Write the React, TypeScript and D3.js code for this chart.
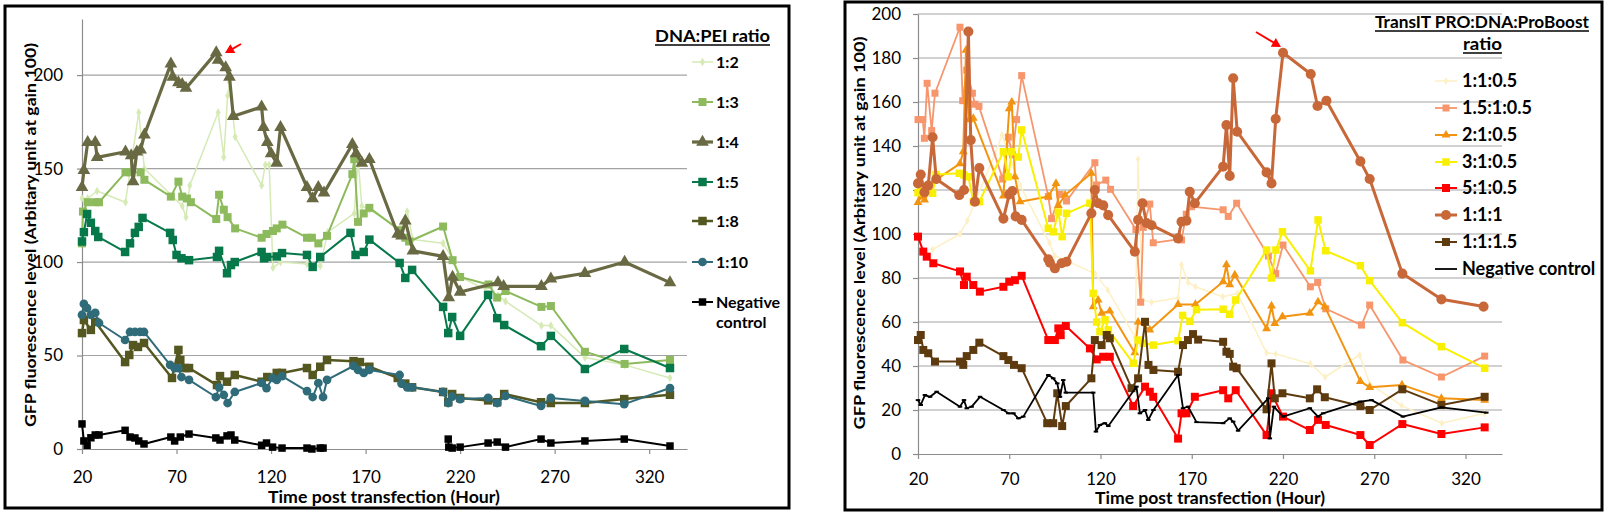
import * as React from 'react';
import * as d3 from 'd3';

const FONT = "Lato, 'Open Sans', sans-serif";

// ---- left panel: DNA:PEI ratio ----
const peiTicksX = [20, 70, 120, 170, 220, 270, 320];
const peiTicksY = [0, 50, 100, 150, 200];

const pei12 = [[20,134],[23,134],[28,138],[43,132],[50,180],[53,150],[73,130],[75,124],[77,141],[92,180],[95,156],[97,189],[98,196],[101,167],[115,141],[117,152],[119,152],[121,97],[125,100],[139,99],[146,98],[150,116],[164,126],[166,155],[168,130],[172,128],[188,118],[192,127],[195,112],[211,110],[217,100],[220,92],[240,82],[244,79],[263,66],[268,66],[286,49],[307,45],[331,38]];
const pei13 = [[20,110],[20.5,127],[23,132],[27,132],[29,132],[43,148],[46,148],[51,148],[53,144],[67,135],[71,143],[73,135],[75.5,134],[77.6,132],[91,123],[92.5,136],[95,128],[97,124],[101,118],[115,113],[117.6,115],[121,116.6],[123,118],[126,120],[139,113],[141.6,113],[145,110],[149.6,114],[163,147],[164,155],[166,121.5],[169,126],[172,129],[188,117],[191,113],[193,111],[211,119],[216,101],[220,92],[235,88],[239.6,81],[244,84.5],[263,76],[268,76.5],[286,52],[307,45.5],[331,47.6]];
const pei14 = [[20,140],[21,149],[23,164],[27,164],[28,156],[43,159],[46,157],[47,143],[49,159],[51,160],[53,168],[67,206],[68,199],[71,196],[73,195],[75,193],[91,212],[92,208],[96,204],[98,199],[100,178],[115,183],[116,172],[118,164],[120,158],[123,153],[125,172],[139,140],[142,134],[145,140],[148,137],[163,163],[165,158],[168,153],[172,155],[187,115],[189,114],[191,122],[195,106],[211,103],[214,81],[216,92],[220,84],[240,89],[243,87],[263,87],[268,91],[286,94],[307,100],[331,89]];
const pei15 = [[20,111],[21,116],[22.7,125.7],[24.7,121],[27,116.6],[28.6,113.4],[42.8,105.4],[45.4,110],[48,115.6],[50,118.8],[52,123.6],[66.6,115.6],[68,111.8],[70,103.8],[72.6,102],[76.6,101],[91.4,102.7],[92.5,106],[96.7,94],[98.8,98.4],[100.8,100],[115,105.4],[116.3,102],[118,102.7],[123,103],[125.8,104.8],[139,103.8],[142,97.4],[146,102.7],[162,115.6],[164.7,103.8],[169,105.4],[172,112],[188,99.5],[191,91.5],[194.6,95.8],[211,76],[213.7,62],[215.8,70.6],[220,60.5],[234.8,82.4],[239.6,70],[243.3,66.3],[262.8,55],[268,60.5],[286,42.8],[306.8,53.5],[331,43.3]];
const pei18 = [[20,62],[21,69],[24.7,63.7],[27,68],[42.8,46.5],[45,50.3],[47,55.6],[49.6,54.6],[52.8,56.7],[67.6,38],[71,53],[72,47.6],[74.6,43.3],[76.6,43.3],[91.4,34.2],[93,39],[96.7,36],[100.8,39.6],[115,36],[118,38.5],[123,40.7],[125.8,40.7],[139,43.3],[142,39.6],[146,44],[149.6,47.6],[163.6,47],[167,46.5],[172,44],[187,38],[191,35],[194.6,33],[211,30.5],[213.7,25],[215.8,29.4],[220,27.3],[234.8,26],[239.6,25],[243.3,29.4],[262.8,25],[268,24.6],[286,24.6],[306.8,26.7],[331,29]];
const pei110 = [[20,71.7],[21,77.6],[22.7,75.4],[24.7,71.7],[27,72.8],[29,67.4],[42.8,58.3],[45.4,62.6],[48,62.6],[50.7,62.6],[52.8,62.6],[66.6,45],[69,43.3],[71,43.3],[72.6,38.5],[76.6,37],[90.8,27.8],[92.5,33],[95,28.9],[97,24.6],[100.8,30.5],[115,35.3],[117.6,32.6],[120.8,38],[123,37],[125.8,39],[139,31],[142,27.8],[145,35.3],[147.5,27.8],[149.6,37],[163.6,44.4],[166,42.3],[169,40.7],[172,42.3],[188,39.6],[189,35],[192,33],[194.6,33],[211,30.5],[213.7,24.6],[215.8,28],[220,26.7],[234.8,27.3],[239.6,24.6],[244,28.4],[262.8,23],[268,27.3],[286,25.7],[306.8,24],[331,32.6]];
const peiNeg = [[20,13.4],[21,4.3],[22.7,2],[24.7,6],[27,7.5],[29,7.5],[42.8,10],[45.4,6.4],[48,5.9],[50,4.3],[52.8,2.7],[67,6.4],[69,4.3],[72,6.4],[76.6,8],[90.8,5.9],[93,4.8],[96.7,7],[98.8,7.5],[100.8,4.8],[115,2],[117.6,3.2],[120.8,1],[125.8,0.5],[139,0.5],[141.6,0],[146,0.5],[147.5,0.5],[180,null],[213.7,5.3],[214,1],[215.8,0.5],[220,1],[234.8,3.2],[239.6,3.7],[244,1],[262.8,5.3],[268,3.2],[286,4.3],[306.8,5.3],[331,1.6]];

// ---- right panel: TransIT PRO:DNA:ProBoost ratio ----
const proTicksX = [20, 70, 120, 170, 220, 270, 320];
const proTicksY = [0, 20, 40, 60, 80, 100, 120, 140, 160, 180, 200];

const pro1105 = [[28,93],[43,100],[47,106],[62,136],[66,145],[76,122],[92,96],[95,90],[101,88],[117,82],[124,74.5],[139,53],[140.6,134],[143,70],[148,69],[162.5,71],[164.4,86],[168,78],[172,76],[187,71.5],[195,73],[211,46],[216,45.5],[235,41],[243,35],[262,45],[267.5,32],[285,22],[307,14],[330.5,18.5]];
const pro15105 = [[20,152],[22.6,152],[23.5,143.5],[25,168.5],[27.5,147],[29.3,164],[43,194],[44.5,160.6],[46.7,174.5],[49.8,164],[51.2,159],[53.4,158],[66.4,125],[69.5,144],[71.8,136],[74,152],[76.8,172],[91.4,117],[93.2,107],[97.8,118],[101.4,115],[116.9,132.4],[117.8,122.3],[122.9,124.5],[125.5,120.3],[139.4,102],[142,69],[143.4,103],[147,113.6],[148.9,96],[162.5,97.6],[164.4,97.3],[167,109],[169.8,112.4],[187.2,111],[190,108],[194.6,114],[212,90],[216,82],[220,95],[235,76],[239,78],[243.4,66],[263,58.6],[267.5,67.7],[285.7,42.7],[306.8,35],[330.5,44.5]];
const pro2105 = [[20,114.4],[21.8,117],[23.6,115.5],[26.7,120],[28.7,124],[43,132],[44.8,137.4],[46.3,183.6],[48.1,152],[50.3,152.6],[66.8,117.3],[70,157],[71.4,160],[73.1,126],[75.9,114.7],[91.4,117],[95.6,123],[96.9,113],[100.6,117.7],[115,127.6],[116,67],[118.7,70],[120.6,64],[125.1,65],[138.8,46],[140.6,60],[147,56.4],[162.5,68],[172,68],[187.2,78.3],[189,86],[190.8,77],[193.6,81.4],[211,57],[213.7,67.3],[215.5,59.4],[219.7,62.4],[234.7,64],[239.2,69.2],[242.9,67],[262.4,33],[267.5,30.3],[285.2,31.4],[306.8,25.3],[330.5,24.5]];
const pro3105 = [[20,118.8],[21.8,120.8],[25.6,121.5],[28,118.5],[29.9,127],[42.6,127.6],[45.2,126.8],[47.6,126],[50.3,114.7],[53.6,114.7],[66.8,137.4],[69.5,126],[71.3,137.4],[74.9,135],[76.8,147.3],[91.4,102.6],[94.1,101],[96.9,110],[99,98.8],[101.4,109.4],[114.2,114],[116,73],[117.9,60],[119.7,55.6],[122.5,61],[124.3,56.4],[138,41.2],[140.6,51.8],[143.4,50.3],[148.9,49.5],[162.5,51.5],[165,63],[169,60.3],[172.6,65.6],[187.2,65.8],[190.8,63.5],[194.1,70],[211,92.7],[213.7,80],[216.1,92.7],[219.7,101],[235,83.3],[239.2,106.4],[243.4,92.4],[262.4,85.6],[267.5,78.8],[285.4,59.7],[306.8,48.8],[330.5,39]];
const pro5105 = [[20,98.8],[22.9,92],[24.8,89.7],[28.4,86.7],[43,83],[45.2,76.8],[46.7,80.6],[50.3,76.8],[53.9,73.8],[66.8,76],[70,78.3],[73.1,79],[76.8,81],[91.4,51.8],[95,51.8],[96.9,57.1],[98.2,54],[101,58.2],[114.2,48],[117.9,43],[121.5,44.2],[125.1,44.2],[137.9,21.8],[144.4,30.6],[147,28.3],[148.9,26],[162.5,7],[164.4,18.5],[167.1,18.5],[171.7,26],[187.2,29],[190,25.3],[194.1,29],[211,8.6],[213.7,27.6],[220,17],[234.7,10.9],[239.2,15.5],[243.4,13.2],[262.4,8.6],[267.5,4.1],[285.4,13.6],[306.8,9.1],[330.5,12.1]];
const pro111 = [[20,123],[21.5,127],[23.5,119],[25.6,122],[28,144],[30,125],[42.6,117.7],[45.2,120],[47.6,192],[48.9,142.7],[51.2,114.7],[53.6,130],[66.8,107],[70,118],[71.7,119.5],[73.5,108],[76.8,106.4],[91.4,88.5],[92.3,87],[95,84.4],[98.7,86.7],[101.4,87.4],[115,109.4],[116.9,120],[118.7,114],[121.5,113],[124.2,108.6],[138.8,92],[140.6,106.4],[143,114],[145.2,105],[148,104],[162.5,98],[164.4,105.6],[167.1,106],[168.9,119.2],[171.7,114],[187.2,130.6],[189,149.5],[190.8,126.4],[192.7,170.8],[194.9,146.5],[211,128],[213.7,123],[216,152.3],[220,182.4],[235.2,172.7],[238.9,158.2],[243.8,160.6],[262.4,133],[267.5,125],[285.4,82],[306.8,70.3],[329.9,67]];
const pro1115 = [[20,51.8],[21.5,54.1],[22.9,47.3],[25.6,45.8],[29.3,42],[43,42],[44.8,40.5],[46.7,44.5],[50.3,47.3],[53.6,50.6],[66.8,44.5],[69.5,42.7],[72.6,40.5],[76.8,39],[90.8,14],[94.1,14],[96.3,27.6],[99,12.7],[101,21.8],[115,34.4],[116.9,51.8],[120.6,49.5],[123.4,54.1],[125.1,52.6],[137,29.9],[140.6,34.4],[144.4,60.1],[146.3,40.5],[149,38.2],[162.5,37.4],[165.2,49.5],[167.9,51.8],[170.7,54.5],[173.5,52],[187.2,51],[189,46.5],[190.8,45.5],[192.7,39.7],[194.6,39],[211,20.3],[213.7,41.2],[215.5,25.3],[219.7,27.6],[234.7,25.3],[238.7,29.4],[242.9,25.8],[262.4,21.8],[267.5,20],[285.4,29.4],[306.8,22.3],[330.5,26]];
const proNeg = [[20,24.5],[21.5,22.3],[23.8,26.8],[26.6,26],[30.2,28.3],[43,21.5],[45.2,24.5],[46.7,20.8],[49.4,21.5],[54,26],[66.8,20],[69.5,18.5],[72.3,18.5],[75,16.2],[77.7,17],[91.4,35.9],[94.1,34.4],[96.3,32.1],[97.8,26],[99.6,33.6],[101,27.9],[116,27.9],[117.5,10.2],[119.7,13.2],[122.4,14],[124.3,12.7],[139.7,30.6],[141.6,18.5],[144.4,20],[146.2,15.5],[149,20],[162.5,35.9],[165.2,20.8],[168,21.5],[172.6,14.5],[187.2,14],[190.8,16.2],[192.7,14.7],[195.4,10.6],[211.9,25.3],[212.8,7.1],[215,21.5],[220,17],[234.7,20.8],[239.2,17],[242,18.5],[262.2,23.8],[268.5,24.5],[285.7,17],[306.8,21.2],[331.4,18.8]];

const dash = {
    draw(ctx, size) {
        const w = Math.sqrt(size);
        ctx.rect(-w / 2, -1, w, 2);
    }
};

const leftPanel = {
    frame: [5, 6, 784, 502],
    xDomain: [20, 340], yDomain: [0, 230],
    left: 82, right: 687, bottom: 449, top: 19,
    xTicks: peiTicksX, yTicks: peiTicksY,
    yPad: 14, xPad: 17,
    yLabel: { text: "GFP fluorescence  level (Arbitary unit at gain 100)", x: 30, y: 235, len: 384 },
    xLabel: { text: "Time post transfection (Hour)", x: 268, y: 503, len: 232 },
    series: [
        { name: '1:2', data: pei12, color: '#d6eab6', width: 1.5, symbol: d3.symbolDiamond, size: 22 },
        { name: '1:3', data: pei13, color: '#8cba5c', width: 2, symbol: d3.symbolSquare, size: 64 },
        { name: '1:4', data: pei14, color: '#696a43', width: 3.2, symbol: d3.symbolTriangle, size: 70 },
        { name: '1:5', data: pei15, color: '#06784a', width: 2, symbol: d3.symbolSquare, size: 72 },
        { name: '1:8', data: pei18, color: '#545720', width: 2.5, symbol: d3.symbolSquare, size: 72 },
        { name: '1:10', data: pei110, color: '#2f6b78', width: 2, symbol: d3.symbolCircle, size: 60 },
        { name: 'Negative', name2: 'control', data: peiNeg, color: '#000000', width: 2, symbol: d3.symbolSquare, size: 56 }
    ],
    legend: { x1: 692, x2: 713, tx: 716, ys: [62, 102, 142, 182, 221, 262, 302], font: 16 },
    titles: [{ text: 'DNA:PEI ratio', x: 655, y: 42, len: 115 }],
    arrow: [241, 44, 225, 53]
};

const rightPanel = {
    frame: [845, 2, 757, 508],
    xDomain: [20, 340], yDomain: [0, 200],
    left: 918, right: 1502, bottom: 454, top: 14,
    xTicks: proTicksX, yTicks: proTicksY,
    yPad: 12, xPad: 14,
    yLabel: { text: "GFP fluorescence  level (Arbitary unit at gain 100)", x: 859, y: 233, len: 393 },
    xLabel: { text: "Time post transfection (Hour)", x: 1095, y: 504, len: 230 },
    series: [
        { name: '1:1:0.5', data: pro1105, color: '#fdf0c4', width: 1.5, symbol: d3.symbolDiamond, size: 18 },
        { name: '1.5:1:0.5', data: pro15105, color: '#f7956c', width: 1.8, symbol: d3.symbolSquare, size: 49 },
        { name: '2:1:0.5', data: pro2105, color: '#f39410', width: 2, symbol: d3.symbolTriangle, size: 34 },
        { name: '3:1:0.5', data: pro3105, color: '#f8f000', width: 2, symbol: d3.symbolSquare, size: 56 },
        { name: '5:1:0.5', data: pro5105, color: '#ff0000', width: 2, symbol: d3.symbolSquare, size: 64 },
        { name: '1:1:1', data: pro111, color: '#c86838', width: 3, symbol: d3.symbolCircle, size: 80 },
        { name: '1:1:1.5', data: pro1115, color: '#5e3a0f', width: 2, symbol: d3.symbolSquare, size: 64 },
        { name: 'Negative control', data: proNeg, color: '#000000', width: 1.8, symbol: dash, size: 20, noLegendMarker: true }
    ],
    legend: { x1: 1435, x2: 1457, tx: 1462, ys: [81, 108, 135, 162, 188, 215, 242, 269], font: 18 },
    titles: [
        { text: 'TransIT PRO:DNA:ProBoost', x: 1375, y: 28, len: 214 },
        { text: 'ratio', x: 1463, y: 50, len: 39 }
    ],
    arrow: [1256, 32, 1281, 47]
};

function drawPanel(svg, p) {
    const x = d3.scaleLinear().domain(p.xDomain).range([p.left, p.right]);
    const y = d3.scaleLinear().domain(p.yDomain).range([p.bottom, p.top]);
    const g = svg.append('g');

    g.append('rect')
        .attr('x', p.frame[0]).attr('y', p.frame[1])
        .attr('width', p.frame[2]).attr('height', p.frame[3])
        .attr('fill', '#fff').attr('stroke', '#000').attr('stroke-width', 3);

    // gridlines
    g.selectAll('.grid')
        .data(p.yTicks.filter(t => t > 0))
        .enter()
        .append('line')
        .attr('x1', p.left).attr('x2', p.right)
        .attr('y1', d => y(d)).attr('y2', d => y(d))
        .attr('stroke', '#a3a3a3').attr('stroke-width', 1.2);

    const yAxis = d3.axisLeft(y).tickValues(p.yTicks).tickSizeInner(5).tickSizeOuter(0).tickPadding(p.yPad);
    const xAxis = d3.axisBottom(x).tickValues(p.xTicks).tickSizeInner(5).tickSizeOuter(0).tickPadding(p.xPad);

    const ya = g.append('g').attr('transform', 'translate(' + p.left + ',0)').call(yAxis);
    const xa = g.append('g').attr('transform', 'translate(0,' + p.bottom + ')').call(xAxis);
    [ya, xa].forEach(a => {
        a.select('.domain').attr('stroke', '#8c8c8c').attr('stroke-width', 1.2);
        a.selectAll('.tick line').attr('stroke', '#8c8c8c').attr('stroke-width', 1.2);
        a.selectAll('.tick text').attr('fill', '#000').style('font-family', FONT).style('font-size', '17px');
    });

    // axis titles
    g.append('text')
        .attr('transform', 'translate(' + p.yLabel.x + ',' + p.yLabel.y + ') rotate(-90)')
        .attr('text-anchor', 'middle').attr('dy', '0.35em')
        .attr('textLength', p.yLabel.len).attr('lengthAdjust', 'spacingAndGlyphs')
        .style('font-family', FONT).style('font-weight', 'bold').style('font-size', '16px')
        .text(p.yLabel.text);
    g.append('text')
        .attr('x', p.xLabel.x).attr('y', p.xLabel.y)
        .attr('textLength', p.xLabel.len).attr('lengthAdjust', 'spacingAndGlyphs')
        .style('font-family', FONT).style('font-weight', 'bold').style('font-size', '17px')
        .text(p.xLabel.text);

    const line = d3.line()
        .defined(d => d[1] != null)
        .x(d => x(d[0]))
        .y(d => y(d[1]));

    p.series.forEach(s => {
        g.append('path')
            .attr('d', line(s.data))
            .attr('fill', 'none')
            .attr('stroke', s.color)
            .attr('stroke-width', s.width)
            .attr('stroke-linejoin', 'round');
        g.selectAll(null)
            .data(s.data.filter(d => d[1] != null))
            .enter()
            .append('path')
            .attr('d', d3.symbol().type(s.symbol).size(s.size))
            .attr('transform', d => 'translate(' + x(d[0]) + ',' + y(d[1]) + ')')
            .attr('fill', s.color);
    });

    // legend
    const lg = p.legend;
    p.series.forEach((s, i) => {
        const ly = lg.ys[i];
        g.append('line')
            .attr('x1', lg.x1).attr('x2', lg.x2).attr('y1', ly).attr('y2', ly)
            .attr('stroke', s.color).attr('stroke-width', s.width);
        if (!s.noLegendMarker) {
            g.append('path')
                .attr('d', d3.symbol().type(s.symbol).size(s.size)())
                .attr('transform', 'translate(' + (lg.x1 + lg.x2) / 2 + ',' + ly + ')')
                .attr('fill', s.color);
        }
        g.append('text')
            .attr('x', lg.tx).attr('y', ly).attr('dy', '0.36em')
            .style('font-family', FONT).style('font-weight', 'bold').style('font-size', lg.font + 'px')
            .text(s.name);
        if (s.name2) {
            g.append('text')
                .attr('x', lg.tx).attr('y', ly + 20).attr('dy', '0.36em')
                .style('font-family', FONT).style('font-weight', 'bold').style('font-size', lg.font + 'px')
                .text(s.name2);
        }
    });

    p.titles.forEach(t => {
        g.append('text')
            .attr('x', t.x).attr('y', t.y)
            .attr('textLength', t.len).attr('lengthAdjust', 'spacingAndGlyphs')
            .style('font-family', FONT).style('font-weight', 'bold').style('font-size', '17px')
            .text(t.text);
        g.append('line')
            .attr('x1', t.x).attr('x2', t.x + t.len).attr('y1', t.y + 3).attr('y2', t.y + 3)
            .attr('stroke', '#000').attr('stroke-width', 1.3);
    });

    // red arrow
    const [ax1, ay1, ax2, ay2] = p.arrow;
    const ang = Math.atan2(ay2 - ay1, ax2 - ax1);
    g.append('line')
        .attr('x1', ax1).attr('y1', ay1)
        .attr('x2', ax2 - 5 * Math.cos(ang)).attr('y2', ay2 - 5 * Math.sin(ang))
        .attr('stroke', '#ff0000').attr('stroke-width', 2);
    const hl = 9, hw = 5;
    const bx = ax2 - hl * Math.cos(ang), by = ay2 - hl * Math.sin(ang);
    g.append('polygon')
        .attr('points', [
            [ax2, ay2],
            [bx + hw * Math.sin(ang), by - hw * Math.cos(ang)],
            [bx - hw * Math.sin(ang), by + hw * Math.cos(ang)]
        ].map(d => d.join(',')).join(' '))
        .attr('fill', '#ff0000');
}

export default function App() {
    const ref = React.useRef(null);

    React.useEffect(() => {
        const svg = d3.select(ref.current);
        svg.selectAll('*').remove();
        drawPanel(svg, leftPanel);
        drawPanel(svg, rightPanel);
    }, []);

    return (
        <svg ref={ref} width={1605} height={516}
            style={{ position: 'absolute', left: 0, top: 0, background: '#fff' }} />
    );
}
